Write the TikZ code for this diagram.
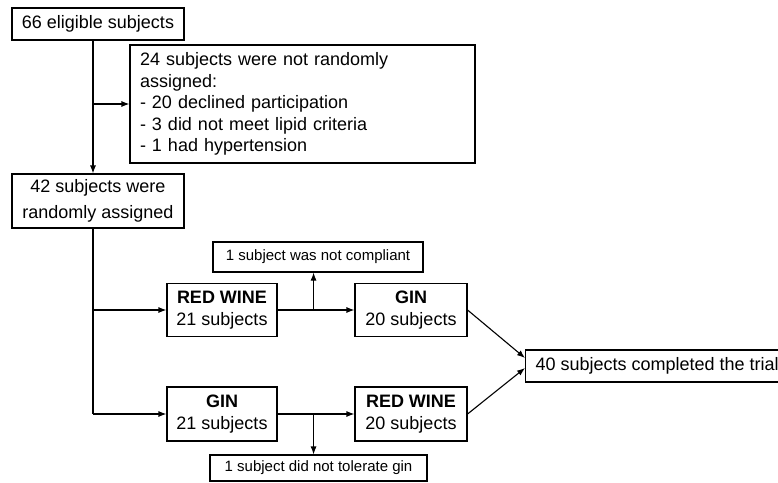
\documentclass[tikz,border=0pt]{standalone}
\usepackage{fontspec}
\setmainfont{Liberation Sans}
\usetikzlibrary{arrows.meta}

\begin{document}
\begin{tikzpicture}[x=1pt,y=-1pt,
  box/.style={draw,line width=1.1pt,inner sep=0pt,align=center,font=\fontsize{18}{21.5}\selectfont},
  note/.style={draw,line width=1.1pt,inner sep=0pt,align=center,font=\fontsize{15}{18}\selectfont},
  flow/.style={line width=1.1pt,-{Latex[length=8pt,width=6pt]}},
  link/.style={line width=1.1pt}]
  \useasboundingbox (0,0) rectangle (778,482);

  % Screening
  \node[box,minimum width=172pt,minimum height=32pt] (elig) at (98,24) {66 eligible subjects};
  \node[box,text width=325pt,inner xsep=10pt,minimum height=118pt,align=left] (excl) at (302.5,104) {24 subjects were not randomly\\assigned:\\- 20 declined participation\\- 3 did not meet lipid criteria\\- 1 had hypertension};
  \node[box,minimum width=172pt,minimum height=54pt] (rand) at (98,201) {42 subjects were\\[5pt]randomly assigned};

  % Period 1 and period 2
  \node[box,minimum width=110pt,minimum height=53pt] (rw1) at (222,310) {\textbf{RED WINE}\\21 subjects};
  \node[box,minimum width=112pt,minimum height=53pt] (gin2) at (411,310) {\textbf{GIN}\\20 subjects};
  \node[box,minimum width=110pt,minimum height=54pt] (gin1) at (222,414) {\textbf{GIN}\\21 subjects};
  \node[box,minimum width=112pt,minimum height=54pt] (rw2) at (411,414) {\textbf{RED WINE}\\20 subjects};

  % Drop-outs and end
  \node[note,minimum width=210pt,minimum height=30pt] (comp) at (318,257) {1 subject was not compliant};
  \node[note,minimum width=217pt,minimum height=26pt] (tol) at (318.5,468) {1 subject did not tolerate gin};
  \node[box,minimum height=32pt,inner xsep=10pt,anchor=west] (done) at (525,366) {40 subjects completed the trial};

  \coordinate (top) at ([xshift=-5pt]elig.south);
  \coordinate (low) at ([xshift=-5pt]rand.south);
  \coordinate (fork1) at ([xshift=36pt]rw1.east);
  \coordinate (fork2) at ([xshift=36pt]gin1.east);

  % Allocation
  \draw[flow] (top) -- ([xshift=-5pt]rand.north);
  \draw[flow] (top |- excl.west) -- (excl.west);
  \draw[link] (low) -- (low |- gin1.west);
  \draw[flow] (low |- rw1.west) -- (rw1.west);
  \draw[flow] (low |- gin1.west) -- (gin1.west);

  % Crossover
  \draw[flow] (rw1.east) -- (gin2.west);
  \draw[flow] (fork1) -- (fork1 |- comp.south);
  \draw[flow] (gin1.east) -- (rw2.west);
  \draw[flow] (fork2) -- (fork2 |- tol.north);
  \draw[flow] (gin2.east) -- ([yshift=8pt]done.west);
  \draw[flow] (rw2.east) -- ([yshift=-2pt]done.west);
\end{tikzpicture}
\end{document}
